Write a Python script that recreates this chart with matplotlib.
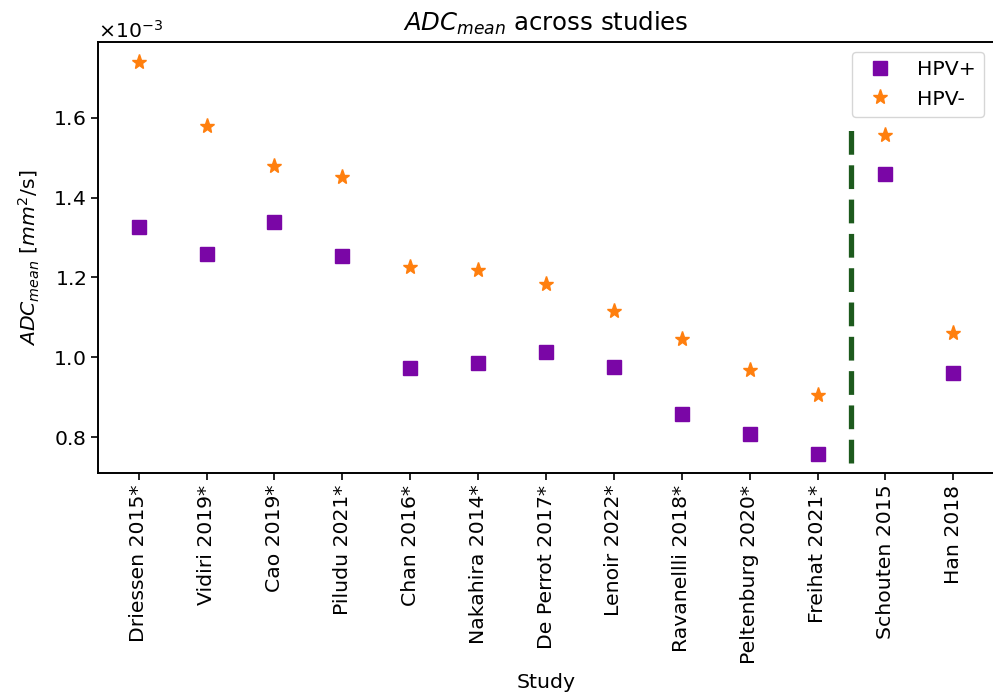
import numpy as np
import matplotlib
matplotlib.use("Agg")
import matplotlib.pyplot as plt

studies = ["Driessen 2015*", "Vidiri 2019*", "Cao 2019*", "Piludu 2021*",
           "Chan 2016*", "Nakahira 2014*", "De Perrot 2017*", "Lenoir 2022*",
           "Ravanellli 2018*", "Peltenburg 2020*", "Freihat 2021*",
           "Schouten 2015", "Han 2018"]

# ADC mean values in mm^2/s
adc_hpv_pos = [1.326e-3, 1.259e-3, 1.338e-3, 1.255e-3, 0.974e-3, 0.986e-3,
               1.0125e-3, 0.976e-3, 0.859e-3, 0.809e-3, 0.759e-3,
               1.46e-3, 0.96e-3]
adc_hpv_neg = [1.74e-3, 1.58e-3, 1.48e-3, 1.451e-3, 1.226e-3, 1.2175e-3,
               1.184e-3, 1.116e-3, 1.045e-3, 0.969e-3, 0.905e-3,
               1.557e-3, 1.06e-3]

# separator between studies with/without asterisk
sep_x = 10.5
sep_ymin, sep_ymax = 0.735e-3, 1.58e-3

fs = 14.7
fig = plt.figure(figsize=(9.93, 6.95), dpi=100)
ax = fig.add_axes([98 / 993, (695 - 473) / 695, (994 - 98) / 993, (473 - 42) / 695])

x = np.arange(len(studies))
ax.plot(x, adc_hpv_pos, linestyle="none", marker="s", markersize=9.6,
        color="#7a06a6", label="HPV+")
ax.plot(x, adc_hpv_neg, linestyle="none", marker="*", markersize=11,
        color="#ff7f0e", label="HPV-")
ax.vlines(sep_x, sep_ymin, sep_ymax, colors="#1d5a1d", linewidth=3.8,
          linestyles=(0, (4.5, 2)))

ax.set_xlim(-0.6, 12.6)
ax.set_ylim(0.711e-3, 1.789e-3)
ax.set_xticks(x)
ax.set_xticklabels(studies, rotation=90, fontsize=fs)
ax.set_yticks([0.8e-3, 1.0e-3, 1.2e-3, 1.4e-3, 1.6e-3])
ax.ticklabel_format(axis="y", style="sci", scilimits=(-3, -3), useMathText=True)
ax.tick_params(axis="y", labelsize=fs)
ax.tick_params(length=5, width=1.2)
ax.yaxis.get_offset_text().set_fontsize(fs)
for sp in ax.spines.values():
    sp.set_linewidth(1.4)

ax.set_xlabel("Study", fontsize=fs)
ax.xaxis.set_label_coords(448 / 896, -200 / 431)
ax.set_ylabel(r"$ADC_{mean}$ [$mm^2$/s]", fontsize=fs)
ax.yaxis.set_label_coords(-56 / 896, 0.5)
ax.set_title(r"$ADC_{mean}$ across studies", fontsize=17.6, pad=8)
ax.legend(loc="upper right", fontsize=fs, borderaxespad=0.5, handletextpad=0.8)

fig.savefig("out.png", dpi=100)
